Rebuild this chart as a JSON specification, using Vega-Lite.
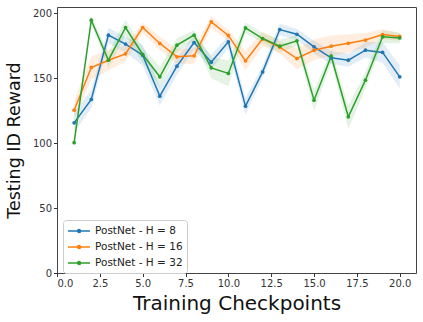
{
  "$schema": "https://vega.github.io/schema/vega-lite/v6.json",
  "width": 359,
  "height": 266,
  "autosize": "none",
  "padding": {"left": 57, "top": 7, "right": 7, "bottom": 49},
  "background": "white",
  "config": {
    "view": {"stroke": "#444", "strokeWidth": 1},
    "font": "DejaVu Sans",
    "axis": {
      "grid": false,
      "domain": false,
      "tickColor": "#333",
      "tickSize": 3.5,
      "labelFont": "DejaVu Sans",
      "labelFontSize": 10,
      "labelColor": "#333",
      "titleFont": "DejaVu Sans",
      "titleFontWeight": "normal",
      "titleColor": "#111"
    }
  },
  "data": {
    "values": [
      {"checkpoint": 1, "series": "PostNet - H = 8", "reward": 115.7, "lower": 108, "upper": 124},
      {"checkpoint": 2, "series": "PostNet - H = 8", "reward": 133.8, "lower": 127, "upper": 141},
      {"checkpoint": 3, "series": "PostNet - H = 8", "reward": 183.3, "lower": 177, "upper": 189},
      {"checkpoint": 4, "series": "PostNet - H = 8", "reward": 176.4, "lower": 170, "upper": 182},
      {"checkpoint": 5, "series": "PostNet - H = 8", "reward": 167.9, "lower": 160, "upper": 176},
      {"checkpoint": 6, "series": "PostNet - H = 8", "reward": 136.3, "lower": 129, "upper": 144},
      {"checkpoint": 7, "series": "PostNet - H = 8", "reward": 159.4, "lower": 153, "upper": 166},
      {"checkpoint": 8, "series": "PostNet - H = 8", "reward": 177.6, "lower": 172, "upper": 183},
      {"checkpoint": 9, "series": "PostNet - H = 8", "reward": 162.5, "lower": 157, "upper": 168},
      {"checkpoint": 10, "series": "PostNet - H = 8", "reward": 178.2, "lower": 173, "upper": 183},
      {"checkpoint": 11, "series": "PostNet - H = 8", "reward": 128.6, "lower": 122, "upper": 135},
      {"checkpoint": 12, "series": "PostNet - H = 8", "reward": 155.0, "lower": 150, "upper": 160},
      {"checkpoint": 13, "series": "PostNet - H = 8", "reward": 187.6, "lower": 183, "upper": 192},
      {"checkpoint": 14, "series": "PostNet - H = 8", "reward": 184.0, "lower": 180, "upper": 188},
      {"checkpoint": 15, "series": "PostNet - H = 8", "reward": 174.3, "lower": 169, "upper": 179},
      {"checkpoint": 16, "series": "PostNet - H = 8", "reward": 165.8, "lower": 161, "upper": 171},
      {"checkpoint": 17, "series": "PostNet - H = 8", "reward": 164.0, "lower": 159, "upper": 169},
      {"checkpoint": 18, "series": "PostNet - H = 8", "reward": 171.7, "lower": 166, "upper": 178},
      {"checkpoint": 19, "series": "PostNet - H = 8", "reward": 170.0, "lower": 162, "upper": 178},
      {"checkpoint": 20, "series": "PostNet - H = 8", "reward": 151.2, "lower": 142, "upper": 160},
      {"checkpoint": 1, "series": "PostNet - H = 16", "reward": 125.5, "lower": 118, "upper": 133},
      {"checkpoint": 2, "series": "PostNet - H = 16", "reward": 158.4, "lower": 149, "upper": 167},
      {"checkpoint": 3, "series": "PostNet - H = 16", "reward": 164.0, "lower": 156, "upper": 172},
      {"checkpoint": 4, "series": "PostNet - H = 16", "reward": 168.9, "lower": 163, "upper": 175},
      {"checkpoint": 5, "series": "PostNet - H = 16", "reward": 189.2, "lower": 185, "upper": 193},
      {"checkpoint": 6, "series": "PostNet - H = 16", "reward": 176.9, "lower": 172, "upper": 182},
      {"checkpoint": 7, "series": "PostNet - H = 16", "reward": 166.6, "lower": 161, "upper": 173},
      {"checkpoint": 8, "series": "PostNet - H = 16", "reward": 167.4, "lower": 161, "upper": 173},
      {"checkpoint": 9, "series": "PostNet - H = 16", "reward": 193.6, "lower": 189, "upper": 198},
      {"checkpoint": 10, "series": "PostNet - H = 16", "reward": 183.1, "lower": 179, "upper": 187},
      {"checkpoint": 11, "series": "PostNet - H = 16", "reward": 163.5, "lower": 156, "upper": 171},
      {"checkpoint": 12, "series": "PostNet - H = 16", "reward": 180.5, "lower": 175, "upper": 186},
      {"checkpoint": 13, "series": "PostNet - H = 16", "reward": 174.0, "lower": 169, "upper": 179},
      {"checkpoint": 14, "series": "PostNet - H = 16", "reward": 165.3, "lower": 157, "upper": 173},
      {"checkpoint": 15, "series": "PostNet - H = 16", "reward": 171.7, "lower": 164, "upper": 180},
      {"checkpoint": 16, "series": "PostNet - H = 16", "reward": 174.8, "lower": 167, "upper": 183},
      {"checkpoint": 17, "series": "PostNet - H = 16", "reward": 177.0, "lower": 170, "upper": 184},
      {"checkpoint": 18, "series": "PostNet - H = 16", "reward": 179.5, "lower": 174, "upper": 185},
      {"checkpoint": 19, "series": "PostNet - H = 16", "reward": 183.8, "lower": 180, "upper": 188},
      {"checkpoint": 20, "series": "PostNet - H = 16", "reward": 182.3, "lower": 179, "upper": 185},
      {"checkpoint": 1, "series": "PostNet - H = 32", "reward": 100.4, "lower": 97, "upper": 104},
      {"checkpoint": 2, "series": "PostNet - H = 32", "reward": 194.8, "lower": 192, "upper": 198},
      {"checkpoint": 3, "series": "PostNet - H = 32", "reward": 164.0, "lower": 158, "upper": 170},
      {"checkpoint": 4, "series": "PostNet - H = 32", "reward": 189.2, "lower": 183, "upper": 195},
      {"checkpoint": 5, "series": "PostNet - H = 32", "reward": 168.4, "lower": 162, "upper": 174},
      {"checkpoint": 6, "series": "PostNet - H = 32", "reward": 151.2, "lower": 143, "upper": 159},
      {"checkpoint": 7, "series": "PostNet - H = 32", "reward": 175.6, "lower": 170, "upper": 181},
      {"checkpoint": 8, "series": "PostNet - H = 32", "reward": 183.3, "lower": 179, "upper": 187},
      {"checkpoint": 9, "series": "PostNet - H = 32", "reward": 158.1, "lower": 150, "upper": 166},
      {"checkpoint": 10, "series": "PostNet - H = 32", "reward": 153.8, "lower": 144, "upper": 164},
      {"checkpoint": 11, "series": "PostNet - H = 32", "reward": 188.9, "lower": 185, "upper": 193},
      {"checkpoint": 12, "series": "PostNet - H = 32", "reward": 180.7, "lower": 177, "upper": 185},
      {"checkpoint": 13, "series": "PostNet - H = 32", "reward": 174.8, "lower": 170, "upper": 180},
      {"checkpoint": 14, "series": "PostNet - H = 32", "reward": 178.9, "lower": 175, "upper": 183},
      {"checkpoint": 15, "series": "PostNet - H = 32", "reward": 133.2, "lower": 125, "upper": 141},
      {"checkpoint": 16, "series": "PostNet - H = 32", "reward": 167.1, "lower": 162, "upper": 172},
      {"checkpoint": 17, "series": "PostNet - H = 32", "reward": 120.4, "lower": 111, "upper": 129},
      {"checkpoint": 18, "series": "PostNet - H = 32", "reward": 148.6, "lower": 142, "upper": 155},
      {"checkpoint": 19, "series": "PostNet - H = 32", "reward": 182.0, "lower": 177, "upper": 187},
      {"checkpoint": 20, "series": "PostNet - H = 32", "reward": 181.2, "lower": 177, "upper": 185}
    ]
  },
  "encoding": {
    "x": {
      "field": "checkpoint",
      "type": "quantitative",
      "scale": {"domain": [0, 20.95], "nice": false, "zero": false},
      "axis": {"values": [0, 2.5, 5, 7.5, 10, 12.5, 15, 17.5, 20], "format": ".1f", "title": "Training Checkpoints", "titleFontSize": 20, "titlePadding": 5}
    },
    "color": {
      "field": "series",
      "type": "nominal",
      "scale": {
        "domain": ["PostNet - H = 8", "PostNet - H = 16", "PostNet - H = 32"],
        "range": ["#1f77b4", "#ff7f0e", "#2ca02c"]
      },
      "legend": {
        "title": null,
        "orient": "none",
        "legendX": 6,
        "legendY": 213,
        "fillColor": "white",
        "strokeColor": "#cccccc",
        "cornerRadius": 3,
        "padding": 4,
        "symbolType": "M-1,0L2.67,0M0.6,0A0.25,0.25 0 1,0 1.1,0A0.25,0.25 0 1,0 0.6,0",
        "symbolSize": 144,
        "symbolStrokeWidth": 1.5,
        "symbolOpacity": 1,
        "labelFontSize": 10.5,
        "labelFont": "DejaVu Sans",
        "labelColor": "#222",
        "rowPadding": 3,
        "labelOffset": 14
      }
    }
  },
  "layer": [
    {
      "mark": {"type": "area", "opacity": 0.13},
      "encoding": {
        "y": {"field": "lower", "type": "quantitative"},
        "y2": {"field": "upper"}
      }
    },
    {
      "mark": {"type": "line", "strokeWidth": 1.5, "point": {"filled": true, "size": 14, "opacity": 1}},
      "encoding": {
        "y": {
          "field": "reward",
          "type": "quantitative",
          "scale": {"domain": [0, 205], "nice": false},
          "axis": {"values": [0, 25, 50, 75, 100, 125, 150, 175, 200], "title": "Testing ID Reward", "titleFontSize": 17.5, "titlePadding": 9}
        }
      }
    }
  ]
}
